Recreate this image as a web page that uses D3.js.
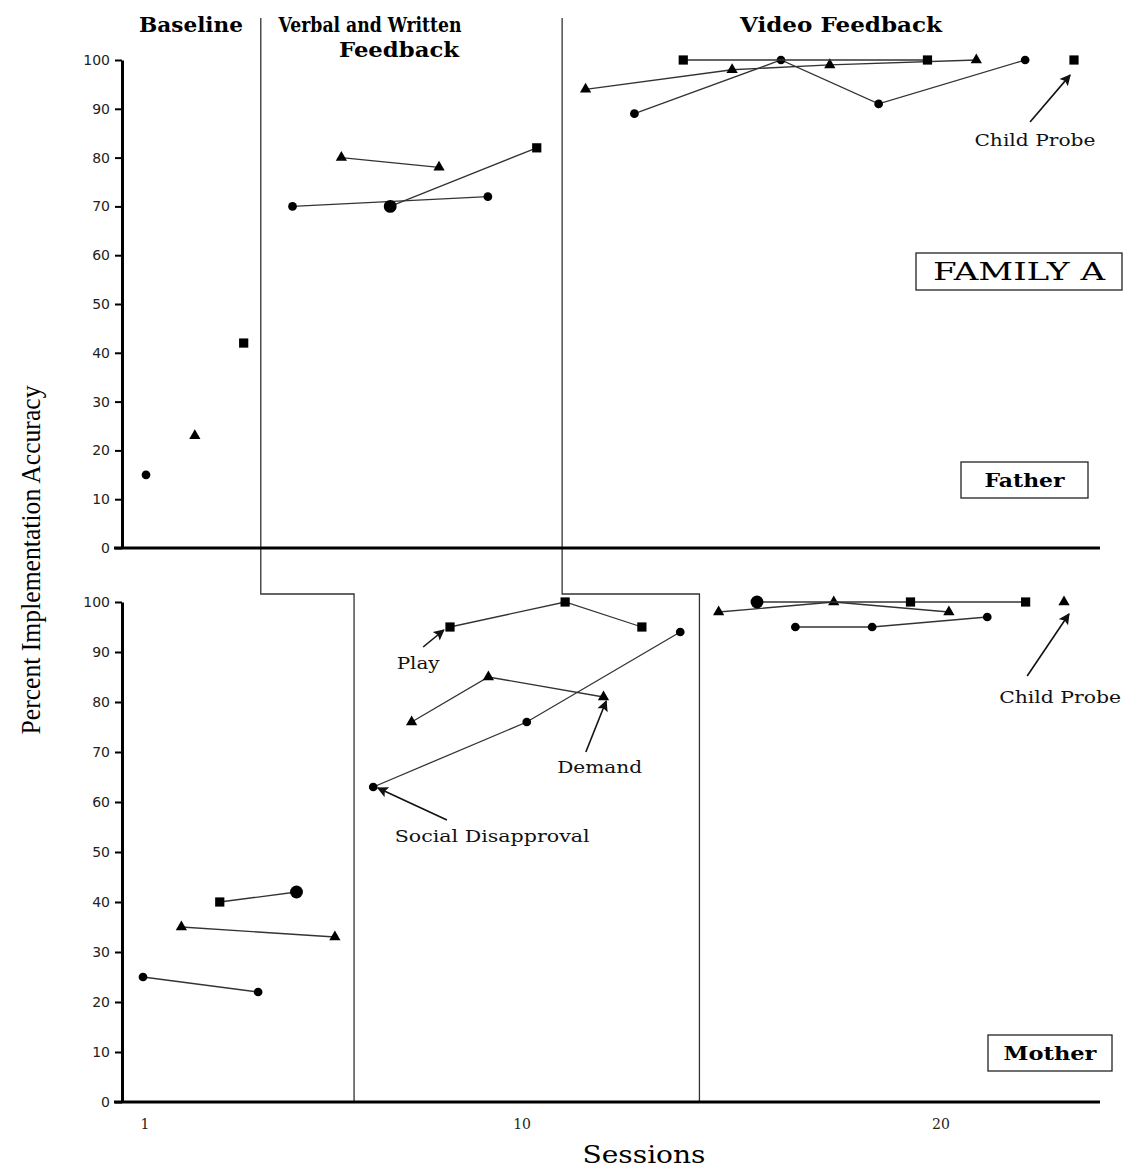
<!DOCTYPE html>
<html>
<head>
<meta charset="utf-8">
<script src="https://cdn.jsdelivr.net/npm/d3@7"></script>
<style>
  body { margin: 0; background: #fff; }
  svg { display: block; }
</style>
</head>
<body>
<svg id="chart" width="1126" height="1169"></svg>
<script>
// Father panel: segments of connected points, [session, percent]
const fatherSD = [[[1, 15]], [[4, 70], [8, 72]], [[11, 89], [14, 100], [16, 91], [19, 100]]];
const fatherDemand = [[[2, 23]], [[5, 80], [7, 78]], [[10, 94], [13, 98], [15, 99], [18, 100]]];
const fatherPlay = [[[3, 42]], [[6, 70], [9, 82]], [[12, 100], [17, 100]], [[20, 100]]];
const fatherPlayRound = [6];

// Mother panel
const motherSD = [[[1, 25], [4, 22]], [[7, 63], [11, 76], [15, 94]], [[18, 95], [20, 95], [23, 97]]];
const motherDemand = [[[2, 35], [6, 33]], [[8, 76], [10, 85], [13, 81]], [[16, 98], [19, 100], [22, 98]], [[25, 100]]];
const motherPlay = [[[3, 40], [5, 42]], [[9, 95], [12, 100], [14, 95]], [[17, 100], [21, 100], [24, 100]]];
const motherPlayRound = [5, 17];

// phase change lines (session positions)
const fatherPhases = [3.35, 9.52];
const motherPhases = [6.5, 15.5];

const yTicks = [0, 10, 20, 30, 40, 50, 60, 70, 80, 90, 100];
const xTickLabels = [1, 10, 20];

const phaseTitles = [
  { text: "Baseline", x: 191, y: 32, len: 104 },
  { text: "Verbal and Written", x: 370, y: 32, len: 183 },
  { text: "Feedback", x: 399, y: 57, len: 120 },
  { text: "Video Feedback", x: 841, y: 32, len: 202 }
];

// annotations: label pos and arrow [from, to] in session/percent
const fatherNotes = [
  { text: "Child Probe", at: [19.2, 82.4], len: 121, arrow: [[19.1, 87.3], [19.92, 96.9]] }
];
const motherNotes = [
  { text: "Child Probe", at: [24.9, 79.8], len: 122, arrow: [[24.04, 85.2], [25.13, 97.6]] },
  { text: "Play", at: [8.17, 86.6], len: 43, arrow: [[8.3, 91], [8.84, 94.4]] },
  { text: "Demand", at: [12.9, 65.8], len: 85, arrow: [[12.54, 70], [13.07, 80.2]] },
  { text: "Social Disapproval", at: [10.1, 52], len: 195, arrow: [[8.92, 56.4], [7.12, 62.8]] }
];

const svg = d3.select("#chart");
const serif = "'DejaVu Serif', 'Liberation Serif', serif";
const axisX0 = 122, axisX1 = 1100;

const xF = d3.scaleLinear().domain([1, 20]).range([146, 1074]);
const yF = d3.scaleLinear().domain([0, 100]).range([548, 60]);
const xM = d3.scaleLinear().domain([1, 25]).range([143, 1064]);
const yM = d3.scaleLinear().domain([0, 100]).range([1102, 602]);
const xLab = d3.scaleLinear().domain([1, 20]).range([145, 941]);

svg.append("defs").append("marker")
  .attr("id", "ah")
  .attr("viewBox", "0 0 10 10")
  .attr("refX", 9).attr("refY", 5)
  .attr("markerWidth", 13).attr("markerHeight", 11)
  .attr("markerUnits", "userSpaceOnUse")
  .attr("orient", "auto")
  .append("path").attr("d", "M0,0 L10,5 L0,10 L2,5 Z").attr("fill", "#111");

// phase change lines
function phaseLine(i) {
  return "M" + xF(fatherPhases[i]) + ",18 V594 H" + xM(motherPhases[i]) + " V1102";
}
[0, 1].forEach(i => {
  svg.append("path").attr("d", phaseLine(i))
    .attr("fill", "none").attr("stroke", "#333").attr("stroke-width", 1.3);
});

function drawAxes(y) {
  const g = svg.append("g").attr("transform", "translate(" + axisX0 + ",0)");
  g.call(d3.axisLeft(y).tickValues(yTicks).tickSize(7).tickPadding(5).tickSizeOuter(0));
  g.select(".domain").attr("stroke", "#000").attr("stroke-width", 3);
  g.selectAll(".tick line").attr("stroke", "#000").attr("stroke-width", 2);
  g.selectAll(".tick text")
    .attr("font-family", "Verdana, 'DejaVu Sans', sans-serif")
    .attr("font-size", 14).attr("fill", "#222");
  svg.append("line")
    .attr("x1", axisX0 - 8).attr("x2", axisX1)
    .attr("y1", y(0)).attr("y2", y(0))
    .attr("stroke", "#000").attr("stroke-width", 3);
}
drawAxes(yF);
drawAxes(yM);

const line = (x, y) => d3.line().x(d => x(d[0])).y(d => y(d[1]));

function drawSeries(segs, symbol, size, x, y, round) {
  const lg = line(x, y);
  segs.filter(s => s.length > 1).forEach(s => {
    svg.append("path").attr("d", lg(s))
      .attr("fill", "none").attr("stroke", "#333").attr("stroke-width", 1.3);
  });
  const pts = segs.flat();
  svg.append("g").selectAll("path").data(pts).join("path")
    .attr("transform", d => "translate(" + x(d[0]) + "," + y(d[1]) + ")")
    .attr("d", d => (round && round.includes(d[0]))
      ? d3.symbol(d3.symbolCircle, 130)()
      : d3.symbol(symbol, size)())
    .attr("fill", "#000");
}

drawSeries(fatherSD, d3.symbolCircle, 60, xF, yF);
drawSeries(fatherDemand, d3.symbolTriangle, 55, xF, yF);
drawSeries(fatherPlay, d3.symbolSquare, 85, xF, yF, fatherPlayRound);
drawSeries(motherSD, d3.symbolCircle, 60, xM, yM);
drawSeries(motherDemand, d3.symbolTriangle, 55, xM, yM);
drawSeries(motherPlay, d3.symbolSquare, 85, xM, yM, motherPlayRound);

function drawNotes(notes, x, y) {
  notes.forEach(n => {
    svg.append("line")
      .attr("x1", x(n.arrow[0][0])).attr("y1", y(n.arrow[0][1]))
      .attr("x2", x(n.arrow[1][0])).attr("y2", y(n.arrow[1][1]))
      .attr("stroke", "#111").attr("stroke-width", 1.6)
      .attr("marker-end", "url(#ah)");
    svg.append("text")
      .attr("x", x(n.at[0])).attr("y", y(n.at[1]))
      .attr("text-anchor", "middle")
      .attr("font-family", serif).attr("font-size", 16)
      .attr("textLength", n.len).attr("lengthAdjust", "spacingAndGlyphs")
      .attr("fill", "#111")
      .text(n.text);
  });
}
drawNotes(fatherNotes, xF, yF);
drawNotes(motherNotes, xM, yM);

// phase titles
phaseTitles.forEach(t => {
  svg.append("text").attr("x", t.x).attr("y", t.y)
    .attr("text-anchor", "middle")
    .attr("font-family", serif).attr("font-weight", "bold").attr("font-size", 20)
    .attr("textLength", t.len).attr("lengthAdjust", "spacingAndGlyphs")
    .text(t.text);
});

// labelled boxes
const boxes = [
  { text: "FAMILY A", x: 916, y: 253, w: 206, h: 37, size: 24, weight: "normal", len: 172 },
  { text: "Father", x: 961, y: 462, w: 127, h: 36, size: 19, weight: "bold", len: 80 },
  { text: "Mother", x: 988, y: 1035, w: 124, h: 36, size: 19, weight: "bold", len: 93 }
];
boxes.forEach(b => {
  svg.append("rect").attr("x", b.x).attr("y", b.y).attr("width", b.w).attr("height", b.h)
    .attr("fill", "#fff").attr("stroke", "#222").attr("stroke-width", 1.3);
  svg.append("text").attr("x", b.x + b.w / 2).attr("y", b.y + b.h / 2)
    .attr("dy", "0.36em").attr("text-anchor", "middle")
    .attr("font-family", serif).attr("font-weight", b.weight).attr("font-size", b.size)
    .attr("textLength", b.len).attr("lengthAdjust", "spacingAndGlyphs")
    .text(b.text);
});

// x tick labels
svg.append("g").selectAll("text").data(xTickLabels).join("text")
  .attr("x", d => xLab(d)).attr("y", 1129)
  .attr("text-anchor", "middle")
  .attr("font-family", serif).attr("font-size", 14).attr("fill", "#222")
  .text(d => d);

// axis titles
svg.append("text").attr("x", 644).attr("y", 1163)
  .attr("text-anchor", "middle")
  .attr("font-family", serif).attr("font-size", 24)
  .attr("textLength", 123).attr("lengthAdjust", "spacingAndGlyphs")
  .text("Sessions");

svg.append("text")
  .attr("transform", "translate(40,560) rotate(-90)")
  .attr("text-anchor", "middle")
  .attr("font-family", "'Liberation Serif', serif").attr("font-size", 27)
  .attr("textLength", 349).attr("lengthAdjust", "spacingAndGlyphs")
  .text("Percent Implementation Accuracy");
</script>
</body>
</html>
